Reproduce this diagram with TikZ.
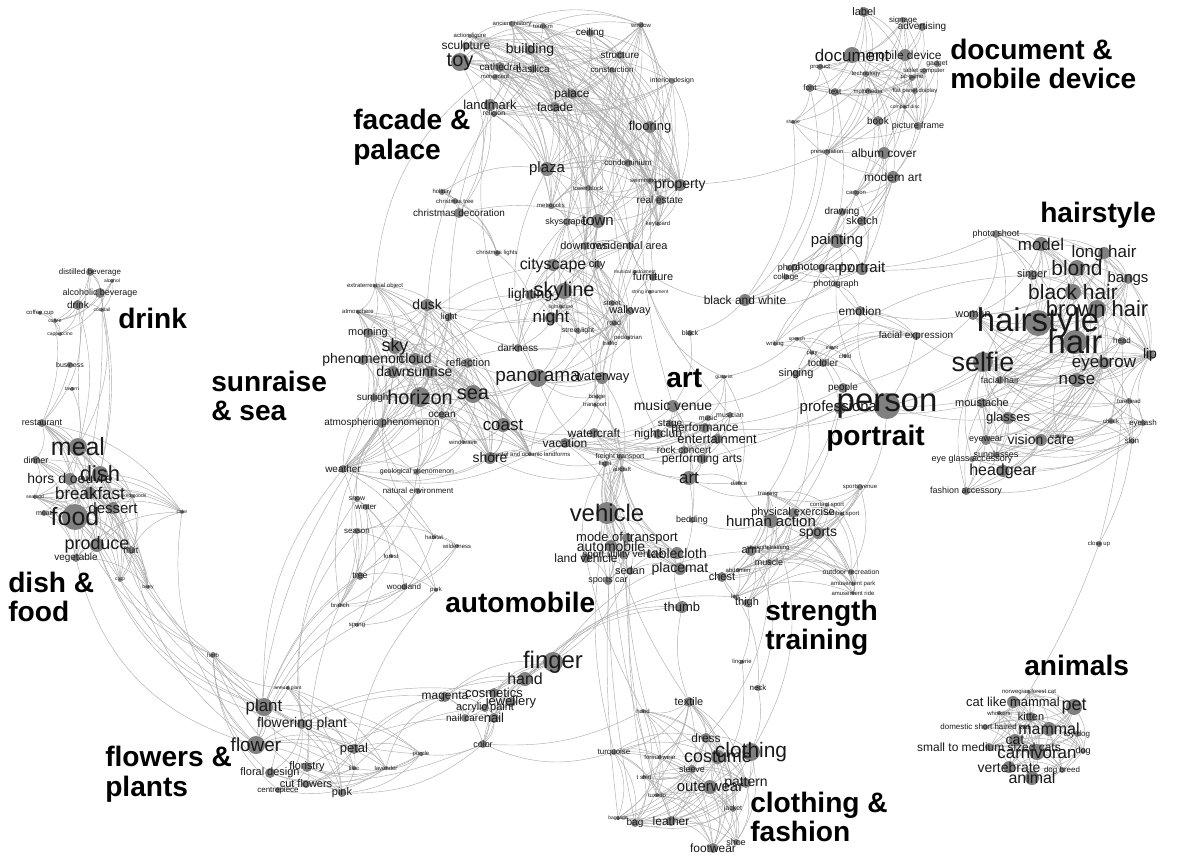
\documentclass[tikz,border=0pt]{standalone}
\usepackage{fontspec}
\setmainfont{Liberation Sans}
\usepackage{tikz}

\pgfdeclarelayer{background}
\pgfdeclarelayer{front}
\pgfsetlayers{background,main,front}

\tikzset{
    concept/.style={circle, fill=gray, inner sep=0pt},
    edge/.style={draw=gray!65, line width=0.3pt},
    tagtext/.style={text=black!90, inner sep=0pt},
    cluster/.style={font=\fontsize{20}{21}\selectfont\bfseries, anchor=west, align=left, inner sep=0pt},
}

% name/x/y/radius/font size (px)/label
\def\concepts{%
toy/460/62/9/20/toy,
sculpture/466/46/4/12/sculpture,
actionfig/470/36/2/6/action figure,
building/530/50/5/14/building,
ancient/512/24/3/6/ancient history,
tourism/543/26/3/6/tourism,
ceiling/590/33/4/10/ceiling,
window/641/25/3/6/window,
cathedral/500/67/5/10/cathedral,
basilica/533/69/4/10/basilica,
monument/495/77/3/6/monument,
structure/620/55/4/10/structure,
construction/612/70/3/8/construction,
interior/672/81/3/7/interior design,
landmark/490/105/6/13/landmark,
religion/494/114/3/7/religion,
palace/572/94/5/12/palace,
facade/555/107/5/12/facade,
flooring/650/127/6/13/flooring,
plaza/547/169/7/15/plaza,
condo/628/163/4/8/condominium,
swimpool/650/181/3/6/swimming pool,
property/680/185/6/14/property,
realestate/660/200/5/10/real estate,
metropolis/551/206/3/6/metropolis,
towerblock/588/188/3/6/tower block,
town/598/221/7/15/town,
skyscraper/567/222/4/9/skyscraper,
downtown/585/246/4/11/downtown,
residential/630/246/4/11/residential area,
keyboard/658/224/2/6/keyboard,
holiday/442/192/3/6/holiday,
xmastree/455/201/3/6/christmas tree,
xmasdeco/459/213/5/10/christmas decoration,
xmaslights/497/253/3/6/christmas lights,
label/864/12/5/11/label,
signage/903/20/3/8/signage,
advertising/922/27/4/10/advertising,
document/852/55/8/17/document,
mobile/905/55/6/12/mobile device,
gadget/937/64/3/7/gadget,
tablet/924/71/3/6/tablet computer,
product/820/67/3/6/product,
technology/866/74/3/6/technology,
pcgame/912/78/3/6/pc game,
font/810/88/4/8/font,
text/835/92/4/8/text,
multimedia/868/91/3/6/multimedia,
flatpanel/915/91/3/6/flat panel display,
compactdisc/905/107/2/5/compact disc,
shape/793/122/2/5/shape,
book/878/121/5/10/book,
pictureframe/918/126/4/9/picture frame,
presentation/827/152/3/6/presentation,
albumcover/884/153/6/12/album cover,
modernart/893/177/6/12/modern art,
cartoon/856/193/3/6/cartoon,
drawing/842/212/4/10/drawing,
sketch/862/221/5/11/sketch,
painting/837/241/7/15/painting,
portrait/862/269/6/15/portrait,
photography/822/268/4/11/photography,
photo/789/268/3/9/photo,
collage/786/277/3/8/collage,
photograph/836/284/3/9/photograph,
bw/745/300/6/12/black and white,
furniture/653/277/4/11/furniture,
musicalinst/635/272/2/5/musical instrument,
stringinst/650/292/2/5/string instrument,
black/690/333/3/7/black,
emotion/860/311/5/12/emotion,
facialexp/916/336/4/10/facial expression,
woman/973/315/5/11/woman,
speech/797/339/2/5/speech,
writing/775/344/2/6/writing,
play/812/353/2/6/play,
infant/832/348/2/5/infant,
child/845/356/2/6/child,
toddler/823/363/4/10/toddler,
singing/796/374/4/11/singing,
people/843/388/5/10/people,
professional/840/408/6/15/professional,
person/887/406/13/33/person,
selfie/983/362/10/27/selfie,
hairstyle/1038/323/13/33/hairstyle,
hair/1075/342/12/33/hair,
photoshoot/996/234/4/9/photo shoot,
model/1041/244/7/17/model,
longhair/1104/253/6/17/long hair,
blond/1077/268/8/21/blond,
singer/1032/275/5/11/singer,
bangs/1128/279/5/15/bangs,
blackhair/1073/292/8/21/black hair,
brownhair/1097/309/9/22/brown hair,
head/1122/341/4/8/head,
lip/1150/355/5/14/lip,
eyebrow/1104/363/6/17/eyebrow,
facialhair/1000/380/4/9/facial hair,
nose/1077/380/7/17/nose,
moustache/982/403/5/11/moustache,
forehead/1129/401/3/6/forehead,
cheek/1111/421/3/6/cheek,
eyelash/1143/423/3/8/eyelash,
glasses/1008/418/6/13/glasses,
mouth/1058/436/2/6/mouth,
skin/1132/441/3/8/skin,
eyewear/986/440/5/9/eyewear,
visioncare/1041/440/6/14/vision care,
sunglasses/996/455/3/9/sunglasses,
eyeglass/972/459/3/9/eye glass accessory,
headgear/1003/471/6/16/headgear,
fashionacc/966/491/4/9/fashion accessory,
closeup/1099/544/3/6/close up,
musicvenue/673/406/6/14/music venue,
guitarist/724/377/2/5/guitarist,
music/708/418/3/7/music,
musician/730/415/3/7/musician,
stage/670/424/4/10/stage,
performance/705/428/5/12/performance,
nightclub/658/434/5/12/nightclub,
entertainment/717/439/5/13/entertainment,
rockconcert/684/450/4/10/rock concert,
performingarts/702/459/5/12/performing arts,
artnode/689/478/7/17/art,
dance/739/483/2/6/dance,
waterway/602/378/6/13/waterway,
bridge/597/397/2/6/bridge,
transport/595/405/2/6/transport,
watercraft/594/433/5/12/watercraft,
vacation/565/443/5/12/vacation,
freight/620/457/3/7/freight transport,
flight/605/464/3/6/flight,
aircraft/622/469/3/6/aircraft,
cityscape/553/265/6/16/cityscape,
city/597/265/4/11/city,
skyline/564/291/8/20/skyline,
lighting/530/295/5/14/lighting,
lightfixture/561/307/2/5/light fixture,
night/551/318/6/17/night,
street/612/303/3/7/street,
walkway/630/311/4/11/walkway,
road/614/323/3/7/road,
streetlight/578/331/3/7/street light,
traffic/610/343/2/6/traffic,
pedestrian/628/338/2/6/pedestrian,
darkness/518/348/4/10/darkness,
panorama/538/378/9/19/panorama,
extraterrestrial/375/286/2/6/extraterrestrial object,
dusk/427/305/6/14/dusk,
atmosphere/358/312/2/6/atmosphere,
light/449/317/4/9/light,
morning/368/333/5/11/morning,
sky/395/347/7/18/sky,
cloud/415/359/6/14/cloud,
phenomenon/363/360/5/14/phenomenon,
reflection/468/363/5/11/reflection,
dawn/393/372/6/14/dawn,
sunrise/430/372/6/14/sunrise,
sunlight/374/398/4/10/sunlight,
horizon/420/397/10/20/horizon,
sea/473/394/9/20/sea,
ocean/442/415/4/10/ocean,
atmospheric/382/423/5/10/atmospheric phenomenon,
coast/503/425/7/17/coast,
windwave/463/442/2/6/wind wave,
shore/490/458/6/14/shore,
coastal/530/454/2/6/coastal and oceanic landforms,
weather/343/469/4/10/weather,
geological/417/472/3/7/geological phenomenon,
snow/357/499/3/7/snow,
winter/366/507/3/8/winter,
natural/418/491/3/8/natural environment,
season/357/531/3/8/season,
habitat/434/537/2/6/habitat,
wilderness/457/546/2/6/wilderness,
forest/391/556/2/6/forest,
tree/360/576/4/9/tree,
woodland/404/587/3/8/woodland,
park/436/590/2/6/park,
branch/340/605/2/6/branch,
spring/357/625/2/6/spring,
distilled/90/272/4/8/distilled beverage,
alcohol/112/281/2/5/alcohol,
alcoholic/100/293/5/9/alcoholic beverage,
drink/78/305/5/10/drink,
cocktail/102/310/2/5/cocktail,
coffeecup/40/313/2/6/coffee cup,
coffee/55/321/2/5/coffee,
cappuccino/60/334/2/5/cappuccino,
business/70/365/3/7/business,
tavern/72/389/2/5/tavern,
restaurant/42/423/4/9/restaurant,
meal/78/447/9/25/meal,
dinner/36/460/4/9/dinner,
dish/100/474/8/22/dish,
horsdoeuvre/70/479/6/14/hors d oeuvre,
breakfast/90/493/6/17/breakfast,
bakedgoods/132/496/2/5/baked goods,
seafood/35/497/2/5/seafood,
dessert/113/508/6/15/dessert,
food/75/517/13/25/food,
meat/44/513/3/7/meat,
produce/97/545/7/18/produce,
fruit/131/550/4/9/fruit,
vegetable/76/558/4/10/vegetable,
crop/120/580/2/5/crop,
berry/148/587/2/5/berry,
cake/182/512/2/5/cake,
herb/213/655/3/6/herb,
annual/288/688/2/5/annual plant,
plant/264/707/9/17/plant,
floweringplant/302/724/5/14/flowering plant,
flower/256/745/9/19/flower,
petal/354/749/5/13/petal,
purple/421/754/2/6/purple,
lilac/354/768/2/6/lilac,
lavender/386/768/2/6/lavender,
floristry/307/767/5/11/floristry,
floraldesign/270/773/5/11/floral design,
cutflowers/306/784/4/11/cut flowers,
centrepiece/278/790/3/8/centrepiece,
pink/342/793/4/11/pink,
magenta/445/697/5/12/magenta,
cosmetics/494/693/5/13/cosmetics,
jewellery/511/702/5/13/jewellery,
acrylic/485/708/4/11/acrylic paint,
nailcare/465/718/4/10/nail care,
nail/494/718/5/13/nail,
color/483/744/4/9/color,
hand/525/679/7/16/hand,
finger/553/662/10/24/finger,
vehicle/607/513/11/24/vehicle,
modeoftransport/627/538/5/13/mode of transport,
automobile/611/546/6/14/automobile,
suv/623/555/4/10/sport utility vehicle,
landvehicle/586/558/5/12/land vehicle,
sedan/630/571/4/11/sedan,
sportscar/608/581/4/9/sports car,
tablecloth/677/553/6/14/tablecloth,
placemat/680/569/6/14/placemat,
bedding/692/520/3/9/bedding,
thumb/682/607/6/13/thumb,
chest/722/577/5/11/chest,
sportsvenue/860/487/3/6/sports venue,
training/768/494/2/6/training,
contactsport/827/505/2/6/contact sport,
physicalexercise/793/513/5/11/physical exercise,
combatsport/842/514/2/6/combat sport,
humanaction/771/521/7/15/human action,
sports/818/533/6/14/sports,
arm/751/551/5/11/arm,
strengthtr/768/548/2/6/strength training,
muscle/769/562/3/9/muscle,
abdomen/738/570/2/6/abdomen,
leg/735/597/2/6/leg,
thigh/747/603/4/11/thigh,
outdoor/851/572/3/7/outdoor recreation,
amusementpark/853/584/2/6/amusement park,
amusementride/853/593/2/6/amusement ride,
lingerie/742/662/2/6/lingerie,
neck/758/688/3/8/neck,
textile/689/702/5/11/textile,
hood/643/711/2/6/hood,
turquoise/614/752/3/8/turquoise,
formalwear/660/757/2/6/formal wear,
dress/706/738/5/12/dress,
costume/718/757/7/18/costume,
clothing/751/752/9/21/clothing,
sleeve/692/769/4/9/sleeve,
tshirt/644/777/2/6/t shirt,
pattern/746/783/5/14/pattern,
outerwear/710/787/7/15/outerwear,
tuxedo/657/795/2/6/tuxedo,
jacket/733/809/3/7/jacket,
leather/671/821/5/12/leather,
bag/635/823/4/10/bag,
baggage/618/818/2/5/baggage,
shoe/736/842/3/9/shoe,
footwear/713/848/5/12/footwear,
norwegian/1029/692/2/6/norwegian forest cat,
catlike/1013/702/6/13/cat like mammal,
pet/1074/707/8/18/pet,
whiskers/999/713/2/6/whiskers,
kitten/1031/717/5/11/kitten,
domestic/985/727/3/8/domestic short haired cat,
mammal/1049/729/7/16/mammal,
toydog/1077/734/3/8/toy dog,
cat/1015/740/6/14/cat,
small/989/747/4/12/small to medium sized cats,
dog/1083/751/3/9/dog,
carnivoran/1037/752/8/17/carnivoran,
vertebrate/1009/767/6/14/vertebrate,
dogbreed/1062/770/3/8/dog breed,
animal/1032/778/7/16/animal%
}

% connect a group of concepts at random
\newcommand{\meshnodes}[2]{%
    \foreach \ea [count=\ia] in {#2} {%
        \foreach \eb [count=\ib] in {#2} {%
            \ifnum\ib>\ia
                \pgfmathtruncatemacro\hit{rnd<#1}%
                \ifnum\hit=1 \draw[edge] (\ea) to[bend left=22] (\eb);\fi
            \fi
        }%
    }%
}

\begin{document}
\begin{tikzpicture}[x=0.025cm, y=-0.025cm]
    \useasboundingbox (0,0) rectangle (1201,856);
    \pgfmathsetseed{7}

    % Concepts
    \foreach \cname/\cx/\cy/\cr/\cs/\ctxt in \concepts
        \node[concept, minimum size=\cr*0.05cm] (\cname) at (\cx,\cy) {};

    % Labels
    \begin{pgfonlayer}{front}
    \foreach \cname/\cx/\cy/\cr/\cs/\ctxt in \concepts {
        \pgfmathsetmacro\fs{\cs*0.709}
        \node[tagtext, font=\fontsize{\fs}{\fs}\selectfont] (\cname-tag) at (\cname) {\ctxt};
    }
    \end{pgfonlayer}

    \begin{pgfonlayer}{background}
    % Canvas
    \fill[white] (0,0) rectangle (1201,856);

    % Edges inside the clusters
    \meshnodes{0.35}{toy,sculpture,actionfig,building,ancient,tourism,ceiling,window,cathedral,basilica,monument,structure,construction,interior,landmark,religion,palace,facade,flooring,plaza,condo,swimpool,property,realestate,metropolis,towerblock,town,skyscraper,downtown,residential,keyboard}
    \meshnodes{1}{holiday,xmastree,xmasdeco,xmaslights}
    \meshnodes{0.35}{cityscape,city,skyline,lighting,lightfixture,night,street,walkway,road,streetlight,traffic,pedestrian,darkness,panorama,town,downtown,residential,skyscraper}
    \meshnodes{0.55}{extraterrestrial,dusk,atmosphere,light,morning,sky,cloud,phenomenon,reflection,dawn,sunrise,sunlight,horizon,sea,ocean,atmospheric,coast,windwave,shore,coastal,weather,geological}
    \meshnodes{0.3}{weather,geological,snow,winter,natural,season,habitat,wilderness,forest,tree,woodland,park,branch,spring,sunlight,atmospheric}
    \meshnodes{0.3}{waterway,bridge,transport,watercraft,vacation,freight,flight,aircraft,coast,shore,panorama,coastal,walkway,road}
    \meshnodes{0.5}{musicvenue,guitarist,music,musician,stage,performance,nightclub,entertainment,rockconcert,performingarts,artnode,dance,vacation,watercraft}
    \meshnodes{0.3}{label,signage,advertising,document,mobile,gadget,tablet,product,technology,pcgame,font,text,multimedia,flatpanel,compactdisc,book,pictureframe,presentation,albumcover,modernart,cartoon,shape}
    \meshnodes{0.4}{modernart,cartoon,drawing,sketch,painting,portrait,photography,photo,collage,photograph,emotion,bw}
    \meshnodes{0.3}{speech,writing,play,infant,child,toddler,singing,people,professional,person,emotion,facialexp,photograph}
    \meshnodes{0.6}{photoshoot,model,longhair,blond,singer,bangs,blackhair,brownhair,hairstyle,hair,head,lip,eyebrow,nose,selfie,woman,facialhair}
    \meshnodes{0.45}{nose,eyebrow,moustache,forehead,cheek,eyelash,glasses,mouth,skin,eyewear,visioncare,sunglasses,eyeglass,headgear,fashionacc,facialhair,selfie,hair,lip}
    \meshnodes{0.6}{distilled,alcohol,alcoholic,drink,cocktail,coffeecup,coffee,cappuccino}
    \meshnodes{0.6}{restaurant,meal,dinner,dish,horsdoeuvre,breakfast,bakedgoods,seafood,dessert,food,meat,produce,fruit,vegetable,crop,berry,cake}
    \meshnodes{0.6}{annual,plant,floweringplant,flower,petal,purple,lilac,lavender,floristry,floraldesign,cutflowers,centrepiece,pink,herb}
    \meshnodes{0.6}{magenta,cosmetics,jewellery,acrylic,nailcare,nail,color,hand,finger}
    \meshnodes{0.55}{vehicle,modeoftransport,automobile,suv,landvehicle,sedan,sportscar,tablecloth,placemat,freight,flight,aircraft}
    \meshnodes{0.45}{sportsvenue,training,contactsport,physicalexercise,combatsport,humanaction,sports,arm,strengthtr,muscle,abdomen,leg,thigh,chest,outdoor,amusementpark,amusementride}
    \meshnodes{0.6}{textile,hood,turquoise,formalwear,dress,costume,clothing,sleeve,tshirt,pattern,outerwear,tuxedo,jacket,leather,bag,baggage,shoe,footwear}
    \meshnodes{0.65}{norwegian,catlike,pet,whiskers,kitten,domestic,mammal,toydog,cat,small,dog,carnivoran,vertebrate,dogbreed,animal}

    % Edges between the clusters
    \foreach \ea/\eb/\k in {
        drink/meal/15, alcoholic/dish/12, distilled/breakfast/-10, cocktail/dish/10, business/restaurant/10,
        tavern/meal/15, coffee/restaurant/15, drink/restaurant/25, alcoholic/meal/20, cocktail/food/8,
        produce/plant/-25, fruit/flower/-20, vegetable/flower/-30, crop/plant/-20, berry/floweringplant/-15,
        herb/plant/10, herb/produce/15, fruit/petal/-20, produce/floweringplant/-30, food/herb/-20,
        cake/flower/-25, dessert/plant/-25, dish/herb/-20,
        tree/plant/-15, spring/flower/-20, branch/plant/-10, season/floweringplant/-25, woodland/flower/-25,
        forest/plant/-20, weather/plant/-20, atmospheric/flower/-15, natural/floristry/-20, park/petal/-15,
        snow/floweringplant/-20,
        petal/magenta/20, purple/color/-15, lavender/magenta/25, pink/color/-20, flower/cosmetics/20,
        floweringplant/magenta/15, lilac/acrylic/20, floristry/nailcare/15, cutflowers/color/-10, petal/hand/20,
        finger/thumb/25, hand/thumb/20, finger/arm/25, nail/chest/20, hand/leg/25, finger/sedan/-15,
        color/turquoise/-20, color/hood/-15,
        vehicle/textile/-10, landvehicle/hood/-8, sportscar/bag/-5, automobile/leather/-8, sedan/tshirt/-6,
        vehicle/turquoise/-12, suv/formalwear/-6, modeoftransport/tuxedo/-8, automobile/baggage/-5,
        neck/chest/-20, lingerie/thigh/-15, textile/thumb/15, neck/arm/-25, clothing/humanaction/-25,
        dress/muscle/-20, clothing/neck/-15, outerwear/lingerie/-20,
        humanaction/people/-15, arm/professional/-20, physicalexercise/singing/-20, sports/person/-25,
        training/singing/-20, dance/humanaction/-15, artnode/training/-20, bedding/humanaction/-20,
        placemat/chest/10, thumb/tablecloth/15, bedding/musicvenue/-15,
        watercraft/vehicle/20, freight/vehicle/15, vehicle/aircraft/-20, vacation/modeoftransport/20,
        panorama/horizon/15, panorama/sea/10, skyline/dusk/15, night/dusk/15, darkness/light/10,
        reflection/waterway/-15, coast/watercraft/-10, shore/vacation/-10, coast/vacation/-15,
        sunrise/skyline/20, cloud/night/15, sky/cityscape/20, light/lighting/15, horizon/darkness/20,
        sea/panorama/-20,
        cityscape/town/-15, skyline/town/-20, plaza/panorama/-25, landmark/panorama/-20,
        xmaslights/lighting/10, xmasdeco/landmark/-20, holiday/plaza/20, xmasdeco/town/15, toy/xmasdeco/30,
        religion/dusk/-15, landmark/light/-10, cathedral/extraterrestrial/-25,
        window/walkway/-15, interior/furniture/-10, flooring/musicvenue/-12, property/waterway/-10,
        structure/bridge/-12, residential/musician/-10, realestate/road/-10, construction/traffic/-15,
        property/presentation/-10, drawing/bw/20, modernart/painting/15, cartoon/drawing/10,
        albumcover/sketch/15, book/portrait/20, font/bw/30, text/writing/25, shape/bw/20, presentation/photo/10,
        furniture/bw/-15, musicalinst/furniture/10, stringinst/furniture/10, bw/black/15,
        furniture/walkway/-20, black/musicvenue/20, stringinst/guitarist/-25, furniture/residential/20,
        facialexp/selfie/-15, woman/hairstyle/-10, emotion/woman/-10, person/hairstyle/-15, person/selfie/-10,
        people/woman/-15, photography/model/-10, portrait/photoshoot/-10, singer/singing/-20,
        facialexp/person/10, person/glasses/-10, professional/moustache/-10, emotion/facialexp/10,
        person/hair/-20, selfie/eyewear/10,
        skin/closeup/10, closeup/norwegian/5, head/closeup/8,
        musicvenue/singing/-15, performance/person/-10, entertainment/professional/-10, stage/people/-15,
        guitarist/speech/-15, performingarts/professional/-5, nightclub/walkway/15, vacation/nightclub/-10,
        watercraft/rockconcert/-10, artnode/placemat/15,
        waterway/walkway/15, waterway/panorama/10, transport/road/15, bridge/street/15, night/waterway/10}
        \draw[edge] (\ea) to[bend left=\k] (\eb);
    \end{pgfonlayer}

    % Cluster titles
    \node[cluster] (t-facade) at (353,137) {facade \&\\palace};
    \node[cluster] (t-document) at (950,64) {document \&\\mobile device};
    \node[cluster] (t-hairstyle) at (1040,215) {hairstyle};
    \node[cluster] (t-drink) at (118,318) {drink};
    \node[cluster] (t-sea) at (211,396) {sunraise\\\& sea};
    \node[cluster] (t-art) at (666,378) {art};
    \node[cluster] (t-portrait) at (826,438) {portrait};
    \node[cluster] (t-food) at (8,597) {dish \&\\food};
    \node[cluster] (t-automobile) at (445,602) {automobile};
    \node[cluster] (t-strength) at (765,628) {strength\\training};
    \node[cluster] (t-animals) at (1024,665) {animals};
    \node[cluster] (t-flowers) at (105,774) {flowers \&\\plants};
    \node[cluster] (t-clothing) at (750,817) {clothing \&\\fashion};
\end{tikzpicture}
\end{document}
